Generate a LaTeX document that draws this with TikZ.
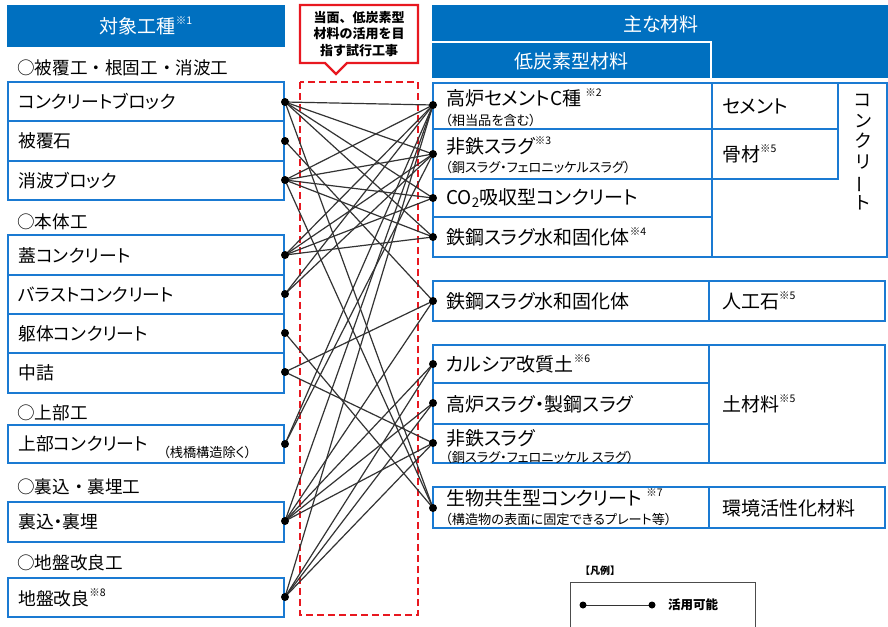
\documentclass[tikz,border=0pt]{standalone}
\usepackage{fontspec}
\newfontfamily\jp[RawFeature={+palt}]{Noto Sans CJK JP}
\newfontfamily\jpf{Noto Sans CJK JP}
\definecolor{hb}{RGB}{0,112,192}
\definecolor{bb}{RGB}{26,122,210}
\definecolor{rd}{RGB}{232,24,32}
\newcommand\kome[1]{\raisebox{0.5em}{\fontsize{10.5}{10.5}\selectfont ※#1}}
\tikzset{
  box/.style={draw=bb, line width=2.5pt, fill=white},
  hdrtext/.style={text=white, font=\jp\fontsize{19}{19}\selectfont, inner sep=0},
  lefttext/.style={anchor=west, font=\jp\fontsize{17.8}{17.8}\selectfont, inner sep=0},
  sectext/.style={anchor=west, font=\jpf\fontsize{17.6}{17.6}\selectfont, inner sep=0},
  righttext/.style={anchor=west, font=\jp\fontsize{19}{19}\selectfont, inner sep=0},
  smalltext/.style={anchor=west, font=\jp\fontsize{13.2}{13.2}\selectfont, inner sep=0},
  dotnode/.style={circle, fill=black, inner sep=0pt, minimum size=8pt},
  conn/.style={draw=black!80, line width=1.2pt},
}
\begin{document}
\begin{tikzpicture}[x=1pt,y=-1pt]
\useasboundingbox (0,0) rectangle (888,626);
\fill[white] (0,0) rectangle (888,626);

% ---------- headers ----------
\fill[hb] (7,5) rectangle (285,47);
\node[hdrtext] (hleft) at (146,26) {対象工種\kome{1}};
\fill[hb] (432,5) rectangle (888,78);
\draw[white, line width=1.6pt] (432,42) -- (711,42) -- (711,78);
\node[hdrtext] (hmain) at (661,24) {主な材料};
\node[hdrtext] (hlow) at (571,61) {低炭素型材料};

% ---------- left column ----------
\node[sectext] (s1) at (17,68) {○被覆工・根固工・消波工};
\draw[box] (8,82) rectangle (284,121);
\draw[box] (8,121) rectangle (284,161);
\draw[box] (8,161) rectangle (284,200);
\node[lefttext] (t1) at (18,102) {コンクリートブロック};
\node[lefttext] (t2) at (18,141) {被覆石};
\node[lefttext] (t3) at (18,181) {消波ブロック};

\node[sectext] (s2) at (17,222) {○本体工};
\draw[box] (8,235) rectangle (284,275);
\draw[box] (8,275) rectangle (284,314);
\draw[box] (8,314) rectangle (284,353);
\draw[box] (8,353) rectangle (284,393);
\node[lefttext] (t4) at (18,255) {蓋コンクリート};
\node[lefttext] (t5) at (18,295) {バラストコンクリート};
\node[lefttext] (t6) at (18,334) {躯体コンクリート};
\node[lefttext] (t7) at (18,373) {中詰};

\node[sectext] (s3) at (17,413) {○上部工};
\draw[box] (8,425) rectangle (284,463);
\node[lefttext] (t8) at (18,444) {上部コンクリート};
\node[smalltext] (t8b) at (163,452) {（桟橋構造除く）};

\node[sectext] (s4) at (17,487) {○裏込・裏埋工};
\draw[box] (8,502) rectangle (284,542);
\node[lefttext] (t9) at (18,522) {裏込・裏埋};

\node[sectext] (s5) at (17,563) {○地盤改良工};
\draw[box] (8,578) rectangle (284,617);
\node[lefttext] (t10) at (18,598) {地盤改良\kome{8}};

% ---------- middle ----------
\draw[rd, line width=2.4pt] (300,5) -- (418,5) -- (418,63) -- (347,63) -- (336,74) -- (325,63) -- (300,63) -- cycle;
\node[align=center, font=\jpf\bfseries\fontsize{13}{16.5}\selectfont, inner sep=0] (call) at (359,34) {当面、低炭素型\\材料の活用を目\\指す試行工事};
\draw[rd, line width=2.4pt, dash pattern=on 7pt off 4pt] (300,82) rectangle (418,615);

% ---------- right column ----------
\draw[box] (712,83) rectangle (887,257);
\draw[box] (433,83) rectangle (712,129);
\draw[box] (433,129) rectangle (712,179);
\draw[box] (433,179) rectangle (712,217);
\draw[box] (433,217) rectangle (712,257);
\draw[box] (712,83) rectangle (838,129);
\draw[box] (712,129) rectangle (838,179);
\node[righttext] (r1) at (446,98) {高炉セメントC種 \kome{2}};
\node[smalltext] (r1b) at (445,120) {（相当品を含む）};
\node[righttext] (r2) at (446,146) {非鉄スラグ\kome{3}};
\node[smalltext] (r2b) at (445,167) {（銅スラグ・フェロニッケルスラグ）};
\node[righttext] (r3) at (446,198) {CO\textsubscript{2}吸収型コンクリート};
\node[righttext] (r4) at (446,237) {鉄鋼スラグ水和固化体\kome{4}};
\node[righttext] (m1) at (722,106) {セメント};
\node[righttext] (m2) at (722,154) {骨材\kome{5}};
\node[align=center, font=\jp\fontsize{18}{20.6}\selectfont, inner sep=0] (m3) at (863,152) {コ\\ン\\ク\\リ\\\rotatebox[origin=c]{90}{ー}\\ト};

\draw[box] (433,281) rectangle (709,321);
\draw[box] (709,281) rectangle (885,321);
\node[righttext] (r5) at (446,301) {鉄鋼スラグ水和固化体};
\node[righttext] (m4) at (722,301) {人工石\kome{5}};

\draw[box] (433,345) rectangle (709,383);
\draw[box] (433,383) rectangle (709,424);
\draw[box] (433,424) rectangle (709,463);
\draw[box] (709,345) rectangle (885,463);
\node[righttext] (r6) at (446,364) {カルシア改質土\kome{6}};
\node[righttext] (r7) at (446,404) {高炉スラグ・製鋼スラグ};
\node[righttext] (r8) at (446,438) {非鉄スラグ};
\node[smalltext] (r8b) at (445,457) {（銅スラグ・フェロニッケル スラグ）};
\node[righttext] (m5) at (722,404) {土材料\kome{5}};

\draw[box] (433,487) rectangle (709,528);
\draw[box] (709,487) rectangle (885,528);
\node[righttext] (r9) at (446,498) {生物共生型コンクリート \kome{7}};
\node[smalltext] (r9b) at (445,519) {（構造物の表面に固定できるプレート等）};
\node[righttext] (m6) at (722,508) {環境活性化材料};

% ---------- connection points ----------
\coordinate (L1) at (285,102);
\coordinate (L2) at (285,141);
\coordinate (L3) at (285,180);
\coordinate (L4) at (285,255);
\coordinate (L5) at (285,294);
\coordinate (L6) at (285,333);
\coordinate (L7) at (285,372);
\coordinate (L8) at (285,444);
\coordinate (L9) at (285,521);
\coordinate (L10) at (285,597);
\coordinate (R1) at (433,105);
\coordinate (R2) at (433,154);
\coordinate (R3) at (433,198);
\coordinate (R4) at (433,237);
\coordinate (R5) at (433,301);
\coordinate (R6) at (433,364);
\coordinate (R7) at (433,403);
\coordinate (R8) at (433,443);
\coordinate (R9) at (433,508);

\foreach \a/\b in {L1/R1,L1/R2,L1/R3,L1/R4,L1/R9,
                   L2/R5,
                   L3/R1,L3/R2,L3/R3,L3/R4,L3/R9,
                   L4/R1,L4/R2,L4/R3,L4/R4,
                   L5/R1,L5/R2,
                   L6/R9,
                   L7/R5,L7/R8,
                   L8/R1,L8/R2,
                   L9/R1,L9/R5,L9/R6,L9/R7,L9/R8,
                   L10/R1,L10/R6,L10/R7,L10/R8}
  \draw[conn] (\a) -- (\b);

\foreach \p in {L1,L2,L3,L4,L5,L6,L7,L8,L9,L10,R1,R2,R3,R4,R5,R6,R7,R8,R9}
  \node[dotnode] (d\p) at (\p) {};

% ---------- legend ----------
\node[font=\jpf\bfseries\fontsize{10}{10}\selectfont, inner sep=0] (leg) at (600,571) {【凡例】};
\draw[black!70, line width=1pt] (570,640) -- (570,582) -- (755,582) -- (755,640);
\coordinate (la) at (583,605);
\coordinate (lb) at (652,605);
\draw[black!80, line width=1pt] (la) -- (lb);
\node[dotnode, minimum size=7pt] (dla) at (la) {};
\node[dotnode, minimum size=7pt] (dlb) at (lb) {};
\node[anchor=west, font=\jpf\bfseries\fontsize{12.5}{12.5}\selectfont, inner sep=0] (legt) at (668,605) {活用可能};
\end{tikzpicture}
\end{document}
